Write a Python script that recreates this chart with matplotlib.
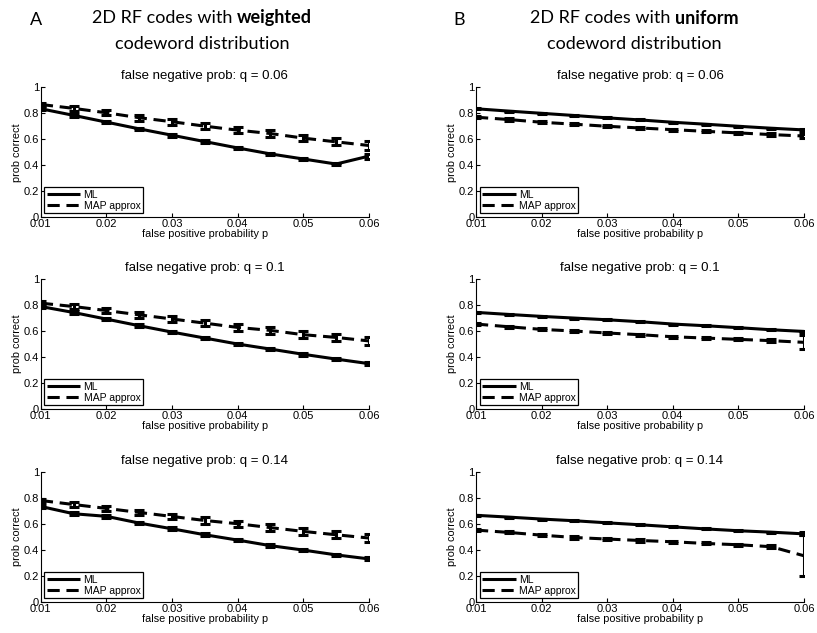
import numpy as np
import matplotlib
matplotlib.use('Agg')
import matplotlib.pyplot as plt

# false positive probability p (x axis, shared by all panels)
p = [0.01, 0.015, 0.02, 0.025, 0.03, 0.035, 0.04, 0.045, 0.05, 0.055, 0.06]
q_labels = ['0.06', '0.1', '0.14']

# column A: weighted codeword distribution
ml_w = [
    [0.835, 0.784, 0.732, 0.680, 0.631, 0.582, 0.533, 0.487, 0.448, 0.409, 0.470],
    [0.789, 0.743, 0.692, 0.641, 0.592, 0.546, 0.500, 0.461, 0.421, 0.384, 0.349],
    [0.736, 0.680, 0.660, 0.608, 0.564, 0.518, 0.477, 0.434, 0.400, 0.363, 0.332],
]
ml_w_err = [
    [0.012, 0.012, 0.010, 0.010, 0.010, 0.010, 0.010, 0.010, 0.010, 0.010, 0.020],
    [0.012, 0.012, 0.010, 0.010, 0.010, 0.010, 0.010, 0.010, 0.010, 0.010, 0.012],
    [0.012, 0.012, 0.010, 0.010, 0.010, 0.010, 0.010, 0.010, 0.010, 0.010, 0.012],
]
map_w = [
    [0.868, 0.838, 0.804, 0.766, 0.735, 0.701, 0.670, 0.644, 0.609, 0.580, 0.552],
    [0.815, 0.789, 0.758, 0.725, 0.693, 0.661, 0.628, 0.605, 0.572, 0.551, 0.524],
    [0.782, 0.751, 0.721, 0.690, 0.659, 0.628, 0.603, 0.573, 0.544, 0.518, 0.493],
]
map_w_err = [
    [0.015, 0.018, 0.020, 0.022, 0.022, 0.024, 0.024, 0.025, 0.026, 0.026, 0.035],
    [0.015, 0.018, 0.020, 0.022, 0.022, 0.024, 0.024, 0.025, 0.026, 0.026, 0.028],
    [0.015, 0.018, 0.020, 0.022, 0.022, 0.024, 0.024, 0.025, 0.026, 0.026, 0.028],
]

# column B: uniform codeword distribution
ml_u = [
    [0.835, 0.817, 0.800, 0.783, 0.765, 0.749, 0.731, 0.716, 0.700, 0.685, 0.672],
    [0.744, 0.728, 0.713, 0.700, 0.687, 0.672, 0.654, 0.641, 0.626, 0.610, 0.597],
    [0.668, 0.654, 0.639, 0.626, 0.610, 0.595, 0.579, 0.563, 0.549, 0.538, 0.525],
]
ml_u_err = [
    [0.004, 0.004, 0.004, 0.004, 0.004, 0.004, 0.004, 0.004, 0.004, 0.004, 0.006],
    [0.004, 0.004, 0.004, 0.004, 0.004, 0.004, 0.004, 0.004, 0.004, 0.004, 0.006],
    [0.004, 0.004, 0.004, 0.004, 0.004, 0.004, 0.004, 0.004, 0.004, 0.004, 0.012],
]
map_u = [
    [0.770, 0.752, 0.731, 0.716, 0.700, 0.687, 0.674, 0.661, 0.649, 0.636, 0.625],
    [0.654, 0.633, 0.613, 0.600, 0.585, 0.572, 0.556, 0.546, 0.536, 0.526, 0.513],
    [0.554, 0.536, 0.515, 0.497, 0.485, 0.474, 0.464, 0.451, 0.441, 0.426, 0.356],
]
map_u_err = [
    [0.008, 0.008, 0.008, 0.008, 0.008, 0.008, 0.008, 0.008, 0.008, 0.010, 0.014],
    [0.008, 0.008, 0.008, 0.008, 0.008, 0.008, 0.008, 0.008, 0.008, 0.010, 0.054],
    [0.008, 0.008, 0.008, 0.008, 0.008, 0.008, 0.008, 0.008, 0.008, 0.012, 0.157],
]

headers = [('2D RF codes with ', 'weighted'), ('2D RF codes with ', 'uniform')]

plt.rcParams['font.family'] = ['Liberation Sans', 'DejaVu Sans']
plt.rcParams['xtick.direction'] = 'in'
plt.rcParams['ytick.direction'] = 'in'

fig = plt.figure(figsize=(8.17, 6.33), dpi=100)

lefts = [0.050, 0.5826]
bottoms = [0.657, 0.354, 0.049]
W, H = 0.4015, 0.205
dash = (4, 2.2)


def panel(ax, ml, ml_e, mp, mp_e, q):
    ax.errorbar(p, mp, yerr=mp_e, fmt='none', ecolor='k', elinewidth=2.2,
                capsize=3.5, capthick=2.2)
    ax.errorbar(p, ml, yerr=ml_e, fmt='none', ecolor='k', elinewidth=2.2,
                capsize=3.5, capthick=2.2)
    ax.plot(p, ml, color='k', lw=2.2, label='ML', solid_capstyle='butt')
    ax.plot(p, mp, color='k', lw=2.2, dashes=dash, label='MAP approx')
    ax.set_xlim(0.01, 0.06)
    ax.set_ylim(0, 1)
    ax.set_xticks([0.01, 0.02, 0.03, 0.04, 0.05, 0.06])
    ax.set_xticklabels(['0.01', '0.02', '0.03', '0.04', '0.05', '0.06'])
    ax.set_yticks([0, 0.2, 0.4, 0.6, 0.8, 1])
    ax.set_yticklabels(['0', '0.2', '0.4', '0.6', '0.8', '1'])
    ax.tick_params(labelsize=8, length=3, width=0.8, pad=1.2)
    for s in ['top', 'right']:
        ax.spines[s].set_visible(False)
    for s in ['left', 'bottom']:
        ax.spines[s].set_linewidth(0.8)
    ax.set_xlabel('false positive probability p', fontsize=7.8, labelpad=0)
    ax.set_ylabel('prob correct', fontsize=7.8, labelpad=1.5)
    ax.set_title('false negative prob: q = ' + q, fontsize=9.5, pad=6)
    leg = ax.legend(loc='lower left', fontsize=7.5, handlelength=3.2,
                    fancybox=False, edgecolor='k', framealpha=1,
                    borderaxespad=0.35, borderpad=0.25, labelspacing=0.1,
                    handletextpad=0.3)
    leg.get_frame().set_linewidth(0.9)


for r in range(3):
    axa = fig.add_axes([lefts[0], bottoms[r], W, H])
    panel(axa, ml_w[r], ml_w_err[r], map_w[r], map_w_err[r], q_labels[r])
    axb = fig.add_axes([lefts[1], bottoms[r], W, H])
    panel(axb, ml_u[r], ml_u_err[r], map_u[r], map_u_err[r], q_labels[r])

hf = ['Lato', 'DejaVu Sans']
fig.text(30 / 817, 1 - 20 / 633, 'A', fontsize=13, family=hf, ha='left', va='center')
fig.text(453 / 817, 1 - 20 / 633, 'B', fontsize=13, family=hf, ha='left', va='center')

# header line 1: normal part + bold part, centred together
renderer = fig.canvas.get_renderer()
for (plain, bold), cx in zip(headers, [202, 634]):
    t1 = fig.text(0, 1 - 18 / 633, plain, fontsize=13, family=hf,
                  ha='left', va='center')
    t2 = fig.text(0, 1 - 18 / 633, bold, fontsize=13, family=hf,
                  fontweight='bold', ha='left', va='center')
    w1 = t1.get_window_extent(renderer).width
    w2 = t2.get_window_extent(renderer).width
    x0 = cx - (w1 + w2) / 2
    t1.set_x(x0 / 817)
    t2.set_x((x0 + w1) / 817)
    fig.text(cx / 817, 1 - 44 / 633, 'codeword distribution', fontsize=13,
             family=hf, ha='center', va='center')

fig.savefig('out.png', dpi=100)
